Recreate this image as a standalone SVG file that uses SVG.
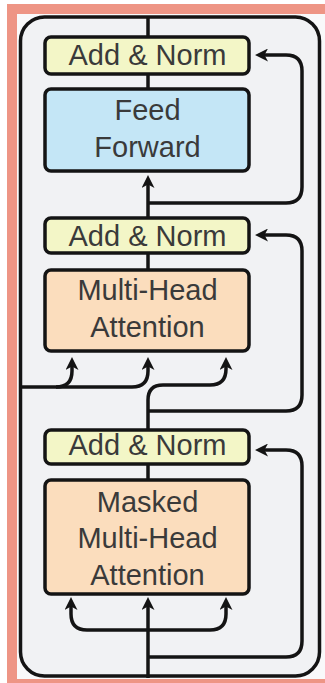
<svg xmlns="http://www.w3.org/2000/svg" width="325" height="683" viewBox="0 0 325 683">
  <style>
    .box { stroke: #141414; stroke-width: 3.5; }
    .an { fill: #F3F6C7; }
    .ff { fill: #C4E6F6; }
    .att { fill: #FBDDBD; }
    .lbl { font-family: "Liberation Sans", Arial, sans-serif; font-size: 29px; fill: #3a3a3a; text-anchor: middle; }
    .ln { fill: none; stroke: #141414; stroke-width: 3.5; }
  </style>
  <defs>
    <marker id="ah" markerUnits="userSpaceOnUse" viewBox="0 0 13 13" markerWidth="13" markerHeight="13" refX="5" refY="6.5" orient="auto-start-reverse">
      <path d="M0,0 L13,6.5 L0,13 L3.5,6.5 Z" fill="#141414"/>
    </marker>
  </defs>

  <!-- frame -->
  <rect x="0" y="0" width="325" height="683" fill="#ffffff"/>
  <rect x="7" y="4" width="318" height="679" fill="#EE9585"/>
  <rect x="17" y="14" width="308" height="665" fill="#F9F9FA"/>
  <rect id="panel" x="20.5" y="17" width="299" height="659" rx="24" fill="#F1F2F4" stroke="#141414" stroke-width="3.5"/>

  <!-- connectors -->
  <g id="connectors">
    <path class="ln" d="M148,17 V37"/>
    <path class="ln" d="M148,74 V89"/>
    <path class="ln" d="M148,218 V183" marker-end="url(#ah)"/>
    <path class="ln" d="M148,203 H286 Q302,203 302,187 V71 Q302,55 286,55 H263" marker-end="url(#ah)"/>
    <path class="ln" d="M148,253 V270"/>
    <path class="ln" d="M148,411 H286 Q302,411 302,395 V251 Q302,235 286,235 H263" marker-end="url(#ah)"/>
    <path class="ln" d="M20,387 H132 Q148,387 148,371 V365" marker-end="url(#ah)"/>
    <path class="ln" d="M56,387 Q72,387 72,371 V365" marker-end="url(#ah)"/>
    <path class="ln" d="M148,430 V400 Q148,385 163,385 H210 Q226,385 226,369 V365" marker-end="url(#ah)"/>
    <path class="ln" d="M148,464 V480"/>
    <path class="ln" d="M148,657 H286 Q302,657 302,641 V466 Q302,450 286,450 H263" marker-end="url(#ah)"/>
    <path class="ln" d="M148,678 V605" marker-end="url(#ah)"/>
    <path class="ln" d="M71,605 V614 Q71,630 87,630 H210 Q226,630 226,614 V605" marker-start="url(#ah)" marker-end="url(#ah)"/>
  </g>

  <!-- nodes -->
  <g id="add-norm-1">
    <rect class="box an" x="45" y="37" width="204" height="37" rx="6"/>
    <text class="lbl" x="147.5" y="65">Add &amp; Norm</text>
  </g>
  <g id="feed-forward">
    <rect class="box ff" x="45" y="89" width="204" height="82" rx="6"/>
    <text class="lbl" x="147.5" y="120">Feed</text>
    <text class="lbl" x="147.5" y="157">Forward</text>
  </g>
  <g id="add-norm-2">
    <rect class="box an" x="45" y="218" width="204" height="35" rx="6"/>
    <text class="lbl" x="147.5" y="246">Add &amp; Norm</text>
  </g>
  <g id="multi-head-attention">
    <rect class="box att" x="45" y="270" width="204" height="81" rx="6"/>
    <text class="lbl" x="147.5" y="300">Multi-Head</text>
    <text class="lbl" x="147.5" y="337">Attention</text>
  </g>
  <g id="add-norm-3">
    <rect class="box an" x="45" y="430" width="204" height="34" rx="6"/>
    <text class="lbl" x="147.5" y="455">Add &amp; Norm</text>
  </g>
  <g id="masked-multi-head-attention">
    <rect class="box att" x="45" y="480" width="204" height="114" rx="6"/>
    <text class="lbl" x="147.5" y="512">Masked</text>
    <text class="lbl" x="147.5" y="548">Multi-Head</text>
    <text class="lbl" x="147.5" y="585">Attention</text>
  </g>
</svg>
